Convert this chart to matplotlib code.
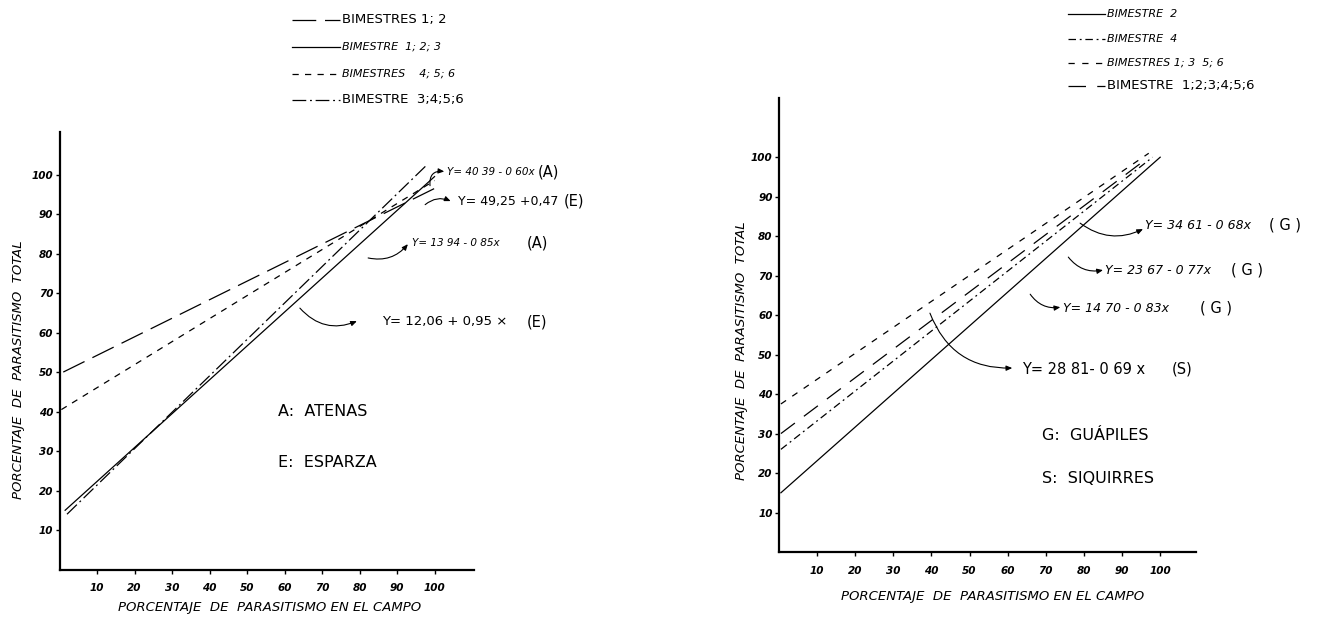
import matplotlib
matplotlib.use("Agg")
import matplotlib.pyplot as plt
from matplotlib.lines import Line2D

W, H = 1317, 617

# ---------------- data: left panel (Atenas / Esparza) ----------------
left_labels = ["BIMESTRES 1; 2", "BIMESTRE  1; 2; 3", "BIMESTRES    4; 5; 6", "BIMESTRE  3;4;5;6"]
left_x_start = [1.0, 1.5, 0.5, 2.0]
left_y_start = [50.0, 15.0, 40.5, 14.0]
left_x_end = [100.0, 100.0, 100.0, 98.0]
left_y_end = [96.5, 99.5, 98.5, 102.5]

left_eq_text = ["Y= 40 39 - 0 60x", "Y= 49,25 +0,47", "Y= 13 94 - 0 85x", "Y= 12,06 + 0,95 \u00d7"]
left_eq_tag = ["(A)", "(E)", "(A)", "(E)"]
left_eq_x = [103.3, 106.3, 94.0, 86.0]
left_eq_y = [100.6, 93.3, 82.7, 62.8]
left_tag_x = [127.5, 134.5, 124.5, 124.7]
left_arrow_tail = [(98.8, 97.2), (97.5, 92.4), (82.3, 78.9), (64.1, 66.2)]
left_arrow_head = [(102.6, 100.8), (104.3, 93.3), (92.9, 82.4), (79.3, 62.9)]

left_sites = ["A:  ATENAS", "E:  ESPARZA"]
left_site_y = [39.9, 27.0]

# ---------------- data: right panel (Guapiles / Siquirres) ----------------
right_labels = ["BIMESTRE  2", "BIMESTRE  4", "BIMESTRES 1; 3  5; 6", "BIMESTRE  1;2;3;4;5;6"]
right_x_start = [0.5, 0.5, 0.5, 0.5]
right_y_start = [15.0, 26.0, 37.5, 30.0]
right_x_end = [100.0, 98.0, 97.0, 97.0]
right_y_end = [100.0, 100.0, 101.0, 100.0]

right_eq_text = ["Y= 34 61 - 0 68x", "Y= 23 67 - 0 77x", "Y= 14 70 - 0 83x", "Y= 28 81- 0 69 x"]
right_eq_tag = ["( G )", "( G )", "( G )", "(S)"]
right_eq_x = [96.1, 85.6, 74.5, 63.8]
right_eq_y = [82.8, 71.4, 61.8, 46.3]
right_tag_x = [128.5, 118.5, 110.5, 103.0]
right_arrow_tail = [(79.0, 83.3), (75.9, 74.7), (65.9, 65.3), (39.6, 60.5)]
right_arrow_head = [(95.5, 81.8), (85.0, 71.4), (73.8, 62.0), (61.2, 46.6)]

right_sites = ["G:  GU\u00c1PILES", "S:  SIQUIRRES"]
right_site_y = [29.4, 18.7]

ticks = [10, 20, 30, 40, 50, 60, 70, 80, 90, 100]

# line styles (kept apart from the data)
left_styles = [(0, (19, 7)), "-", (0, (5, 5)), (0, (11, 3, 1.5, 3))]
right_styles = ["-", (0, (6, 3, 1.5, 3)), (0, (5, 6)), (0, (14, 9))]
left_italic = [False, True, True, False]
right_italic = [True, True, True, False]

fig = plt.figure(figsize=(W / 100, H / 100), dpi=100)
fig.patch.set_facecolor("white")

ax1 = fig.add_axes([59.5 / W, 47.5 / H, 414.4 / W, 437.5 / H])
ax2 = fig.add_axes([779 / W, 65 / H, 417 / W, 454 / H])


def setup(ax, ymax, xmax, xlab_xy, ylab_xy):
    ax.set_xlim(0, xmax)
    ax.set_ylim(0, ymax)
    for s in ["top", "right"]:
        ax.spines[s].set_visible(False)
    for s in ["left", "bottom"]:
        ax.spines[s].set_linewidth(1.6)
    ax.set_xticks(ticks)
    ax.set_yticks(ticks)
    ax.tick_params(axis="x", direction="out", length=3, width=1, pad=7)
    ax.tick_params(axis="y", direction="out", length=3, width=1, pad=1.5)
    for lab in ax.get_xticklabels() + ax.get_yticklabels():
        lab.set_fontstyle("italic")
        lab.set_fontweight("bold")
        lab.set_fontsize(7.5)
    ax.set_xlabel("PORCENTAJE  DE  PARASITISMO EN EL CAMPO", fontsize=9.5, style="italic")
    ax.set_ylabel("PORCENTAJE  DE  PARASITISMO  TOTAL", fontsize=9.5, style="italic")
    ax.xaxis.set_label_coords(*xlab_xy)
    ax.xaxis.label.set_va("center")
    ax.yaxis.set_label_coords(*ylab_xy)
    ax.yaxis.label.set_va("center")


setup(ax1, 110.8, 110.5, (0.506, -0.086), (-0.098, 0.456))
setup(ax2, 115.0, 109.4, (0.511, -0.099), (-0.089, 0.443))


def draw_panel(ax, xs, ys, xe, ye, styles):
    for i in range(len(xs)):
        ax.plot([xs[i], xe[i]], [ys[i], ye[i]], color="black", lw=0.9, linestyle=styles[i],
                clip_on=False)


draw_panel(ax1, left_x_start, left_y_start, left_x_end, left_y_end, left_styles)
draw_panel(ax2, right_x_start, right_y_start, right_x_end, right_y_end, right_styles)


def annotate_panel(ax, texts, tags, xs, ys, tag_xs, tails, heads, italic_eq, sizes, rad):
    for i in range(len(texts)):
        ax.text(xs[i], ys[i], texts[i], ha="left", va="center", clip_on=False,
                fontsize=sizes[i], style="italic" if italic_eq[i] else "normal")
        ax.text(tag_xs[i], ys[i], tags[i], ha="left", va="center", fontsize=10.5, clip_on=False)
        ax.annotate("", xy=heads[i], xytext=tails[i], annotation_clip=False,
                    arrowprops=dict(arrowstyle="-|>,head_length=0.35,head_width=0.15",
                                    color="black", lw=0.8, shrinkA=0, shrinkB=0,
                                    connectionstyle="arc3,rad=%s" % rad[i]))


annotate_panel(ax1, left_eq_text, left_eq_tag, left_eq_x, left_eq_y, left_tag_x,
               left_arrow_tail, left_arrow_head, [True, False, True, False],
               [7.5, 9, 7.5, 9.5], [-0.6, -0.3, 0.3, 0.35])
annotate_panel(ax2, right_eq_text, right_eq_tag, right_eq_x, right_eq_y, right_tag_x,
               right_arrow_tail, right_arrow_head, [True, True, True, False],
               [9, 9, 9, 10.5], [0.3, 0.3, 0.3, 0.35])

for txt, y in zip(left_sites, left_site_y):
    ax1.text(58.3, y, txt, ha="left", va="center", fontsize=11.5)
for txt, y in zip(right_sites, right_site_y):
    ax2.text(69.0, y, txt, ha="left", va="center", fontsize=11.5)


# legends drawn in figure pixels
def legend(x_line0, x_line1, x_text, rows_y, labels, styles, italic):
    for lab, y, st, it in zip(labels, rows_y, styles, italic):
        fig.add_artist(Line2D([x_line0 / W, x_line1 / W], [1 - y / H, 1 - y / H],
                              transform=fig.transFigure, color="black", lw=0.9, linestyle=st))
        fig.text(x_text / W, 1 - y / H, lab, ha="left", va="center",
                 fontsize=8 if it else 9.5, style="italic" if it else "normal")


legend(292, 340, 342, [20, 47, 74, 100], left_labels, left_styles, left_italic)
legend(1068, 1105, 1107, [14, 39, 63, 86], right_labels, right_styles, right_italic)

fig.savefig("out.png", dpi=100)
